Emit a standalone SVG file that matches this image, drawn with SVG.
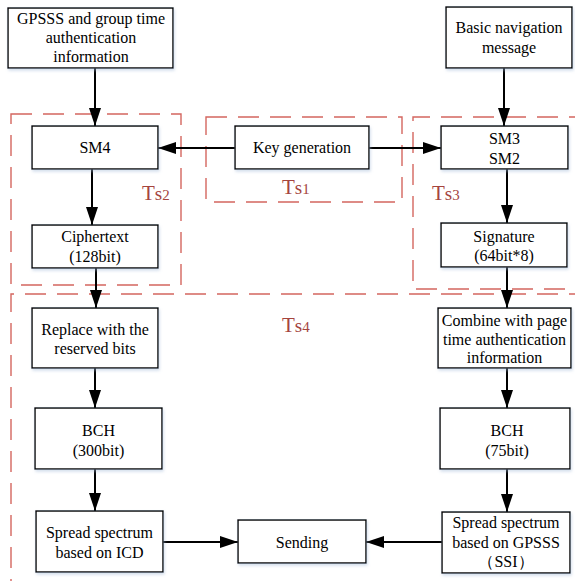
<svg xmlns="http://www.w3.org/2000/svg" width="575" height="581" viewBox="0 0 575 581">
  <defs>
    <filter id="soft" x="-10%" y="-10%" width="130%" height="140%">
      <feDropShadow dx="1" dy="2" stdDeviation="1.5" flood-color="#9fb8d6" flood-opacity="0.45"/>
    </filter>
    <marker id="head" markerWidth="18" markerHeight="12" refX="18" refY="6" orient="auto" markerUnits="userSpaceOnUse">
      <path d="M0,0 L18,6 L0,12 Z" fill="#000"/>
    </marker>
  </defs>
  <style>
    .box { fill: #fff; stroke: #000; stroke-width: 1.4; filter: url(#soft); }
    .t { font-family: 'Liberation Serif', Tinos, 'DejaVu Serif', serif; font-size: 16px; fill: #000; text-anchor: middle; }
    .zone { fill: none; stroke: #d4665f; stroke-width: 1.4; stroke-dasharray: 21 11; }
    .ts { font-family: 'Liberation Serif', Tinos, 'DejaVu Serif', serif; fill: #a5443e; }
    .link { fill: none; stroke: #000; stroke-width: 2; marker-end: url(#head); }
  </style>
  <rect width="575" height="581" fill="#fff"/>

  <!-- time-slot regions -->
  <g id="zones">
    <rect class="zone" x="11" y="114" width="170" height="171"/>
    <rect class="zone" x="206" y="117" width="196" height="85"/>
    <path class="zone" d="M590 117 H413 V289 H590"/>
    <path class="zone" d="M590 294 H11 V595"/>
    <text class="ts" x="142" y="200"><tspan font-size="21">T</tspan><tspan font-size="19">s</tspan><tspan font-size="15">2</tspan></text>
    <text class="ts" x="282" y="194"><tspan font-size="21">T</tspan><tspan font-size="19">s</tspan><tspan font-size="15">1</tspan></text>
    <text class="ts" x="432" y="200"><tspan font-size="21">T</tspan><tspan font-size="19">s</tspan><tspan font-size="15">3</tspan></text>
    <text class="ts" x="282" y="332"><tspan font-size="21">T</tspan><tspan font-size="19">s</tspan><tspan font-size="15">4</tspan></text>
  </g>

  <!-- connectors -->
  <g id="connectors">
    <path class="link" d="M95 68 V126"/>
    <path class="link" d="M504 68 V126"/>
    <path class="link" d="M235 148 H158"/>
    <path class="link" d="M369 148 H441"/>
    <path class="link" d="M92 169 V225"/>
    <path class="link" d="M507 169 V223"/>
    <path class="link" d="M96 268 V308"/>
    <path class="link" d="M507 267 V308"/>
    <path class="link" d="M95 368 V408"/>
    <path class="link" d="M507 368 V408"/>
    <path class="link" d="M95 469 V511"/>
    <path class="link" d="M507 469 V512"/>
    <path class="link" d="M163 542 H238"/>
    <path class="link" d="M442 542 H366"/>
  </g>

  <g id="gpsss-input">
    <rect class="box" x="8" y="8" width="165" height="60"/>
    <text class="t" x="91" y="24">GPSSS and group time</text>
    <text class="t" x="91" y="43">authentication</text>
    <text class="t" x="91" y="62">information</text>
  </g>
  <g id="nav-message">
    <rect class="box" x="446" y="7" width="126" height="61"/>
    <text class="t" x="509" y="33">Basic navigation</text>
    <text class="t" x="509" y="53">message</text>
  </g>
  <g id="sm4">
    <rect class="box" x="32" y="126" width="126" height="43"/>
    <text class="t" x="95" y="153">SM4</text>
  </g>
  <g id="key-generation">
    <rect class="box" x="235" y="126" width="134" height="43"/>
    <text class="t" x="302" y="153">Key generation</text>
  </g>
  <g id="sm3-sm2">
    <rect class="box" x="441" y="126" width="127" height="43"/>
    <text class="t" x="504.5" y="144">SM3</text>
    <text class="t" x="504.5" y="164">SM2</text>
  </g>
  <g id="ciphertext">
    <rect class="box" x="32" y="225" width="126" height="43"/>
    <text class="t" x="95" y="242">Ciphertext</text>
    <text class="t" x="95" y="262">(128bit)</text>
  </g>
  <g id="signature">
    <rect class="box" x="441" y="223" width="126" height="44"/>
    <text class="t" x="504" y="242">Signature</text>
    <text class="t" x="504" y="261">(64bit*8)</text>
  </g>
  <g id="replace">
    <rect class="box" x="32" y="308" width="126" height="60"/>
    <text class="t" x="95" y="335">Replace with the</text>
    <text class="t" x="95" y="354">reserved bits</text>
  </g>
  <g id="combine">
    <rect class="box" x="438" y="308" width="133" height="60"/>
    <text class="t" x="504.5" y="326">Combine with page</text>
    <text class="t" x="504.5" y="345">time authentication</text>
    <text class="t" x="504.5" y="363">information</text>
  </g>
  <g id="bch-300">
    <rect class="box" x="35" y="408" width="127" height="61"/>
    <text class="t" x="98.5" y="436">BCH</text>
    <text class="t" x="98.5" y="456">(300bit)</text>
  </g>
  <g id="bch-75">
    <rect class="box" x="440" y="408" width="130" height="61"/>
    <text class="t" x="507" y="436">BCH</text>
    <text class="t" x="507" y="456">(75bit)</text>
  </g>
  <g id="spread-icd">
    <rect class="box" x="36" y="511" width="127" height="61"/>
    <text class="t" x="99.5" y="538">Spread spectrum</text>
    <text class="t" x="99.5" y="558">based on ICD</text>
  </g>
  <g id="sending">
    <rect class="box" x="238" y="520" width="128" height="43"/>
    <text class="t" x="302" y="548">Sending</text>
  </g>
  <g id="spread-gpsss">
    <rect class="box" x="442" y="512" width="128" height="61"/>
    <text class="t" x="506" y="528">Spread spectrum</text>
    <text class="t" x="506" y="548">based on GPSSS</text>
    <text class="t" x="506" y="567">（SSI）</text>
  </g>
</svg>
